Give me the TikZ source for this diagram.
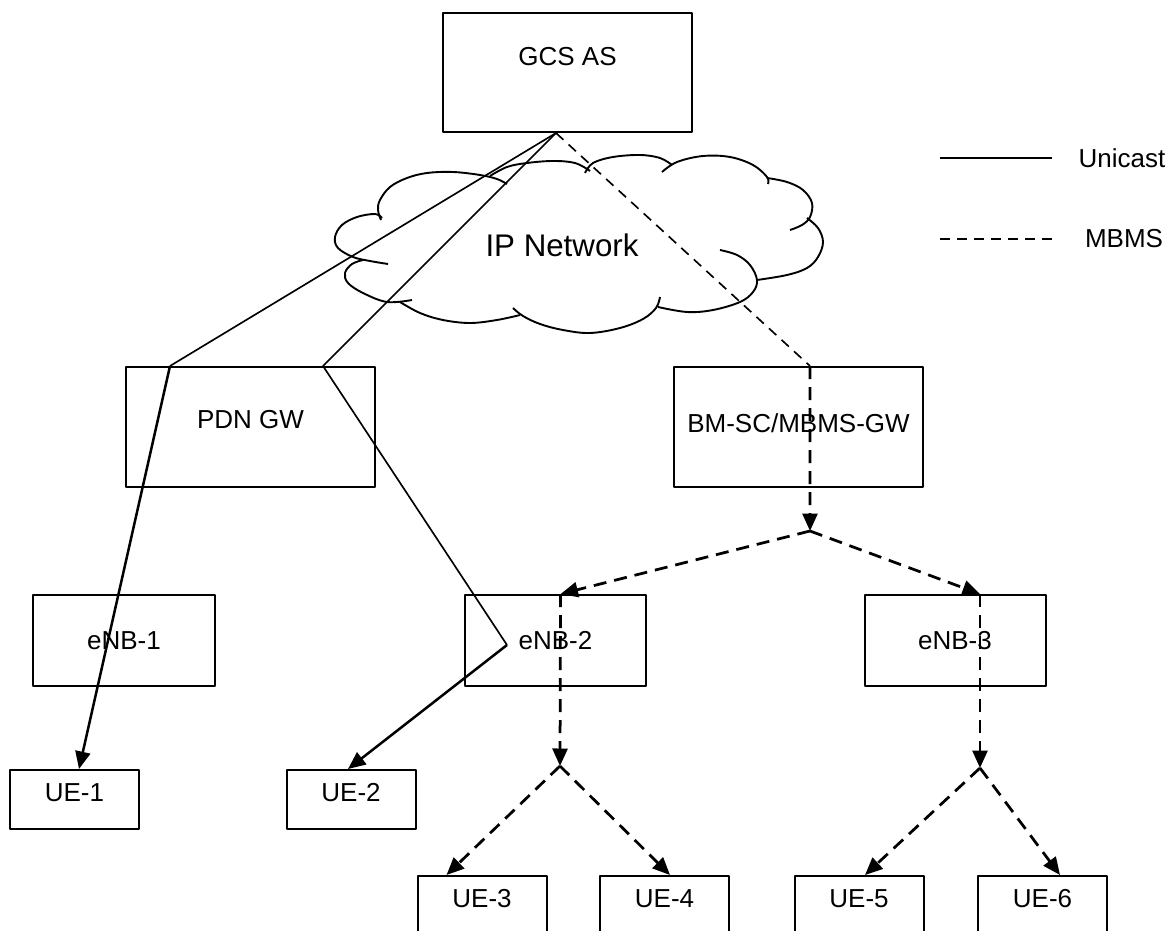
\documentclass[tikz,border=0pt]{standalone}
\usepackage{fontspec}
\setmainfont{Liberation Sans}
\usetikzlibrary{arrows.meta,calc}
\begin{document}
\begin{tikzpicture}[x=0.2mm,y=-0.2mm,>={Triangle[length=3.5mm,width=3mm]},line join=round,
		font=\fontsize{14.8}{18}\selectfont,
		unit/.style={draw,line width=0.4mm},
		core/.style={unit,minimum width=49.8mm,minimum height=24mm},
		enb/.style={unit,minimum width=36.2mm,minimum height=18.2mm,text depth=0pt},
		ue/.style={unit,minimum width=25.8mm,minimum height=11.8mm,text depth=2.7mm},
		uni/.style={line width=0.33mm},
		unia/.style={line width=0.5mm,->},
		mbms/.style={line width=0.33mm,dash pattern=on 2mm off 1.4mm},
		mbmsa/.style={line width=0.55mm,dash pattern=on 2.6mm off 1.6mm,->},
		puff/.style={line width=0.38mm,smooth,tension=0.6}]
	\useasboundingbox (0,0) rectangle (1168,931);
	\clip (0,0) rectangle (1168,931);
	% boxes
	\node[core,minimum height=23.8mm,text depth=6.3mm] (gcs) at (567.5,72.5) {GCS AS};
	\node[core,text depth=2.9mm] (pdn) at (250.5,427) {PDN GW};
	\node[core,text depth=1.5mm] (bmsc) at (798.5,427) {BM-SC/MBMS-GW};
	\node[enb] (enb1) at (124,640.5) {eNB-1};
	\node[enb] (enb2) at (555.5,640.5) {eNB-2};
	\node[enb] (enb3) at (955,640.5) {eNB-3};
	\foreach \n/\x/\y in {1/74.5/799.5,2/351/799.5,3/482/905.5,4/664.5/905.5,5/859/905.5,6/1042.5/905.5}
		\node[ue] (ue\n) at (\x,\y) {UE-\n};
	% cloud
	\draw[puff] plot coordinates {(381,220) (378,210) (380,200) (390,187) (407,178) (427,173) (453,172) (480,175) (497,179) (507,184)};
	\draw[puff] plot coordinates {(490,176) (507,167) (527,163) (553,161) (575,163) (590,171)};
	\draw[puff] plot coordinates {(585,173) (593,163) (613,157) (640,155) (660,158) (672,165)};
	\draw[puff] plot coordinates {(662,172) (677,162) (703,156) (730,157) (753,165) (767,177) (768,184)};
	\draw[puff] plot coordinates {(767,178) (787,182) (803,190) (812,203) (810,217) (802,225) (790,230)};
	\draw[puff] plot coordinates {(807,218) (818,228) (823,242) (818,257) (807,268) (787,275) (757,280)};
	\draw[puff] plot coordinates {(720,250) (737,255) (750,265) (757,280) (753,292) (740,302) (713,310) (687,312) (658,307)};
	\draw[puff] plot coordinates {(660,297) (656,308) (643,319) (620,328) (590,333) (563,330) (540,324) (523,316) (513,308)};
	\draw[puff] plot coordinates {(520,315) (497,320) (470,323) (443,320) (420,313) (400,302)};
	\draw[puff] plot coordinates {(363,260) (352,264) (345,273) (348,283) (363,293) (387,302) (412,300)};
	\draw[puff] plot coordinates {(382,218) (375,214) (357,217) (342,225) (335,237) (338,248) (353,257) (370,261) (388,264)};
	\node[font=\fontsize{17.8}{21}\selectfont] (ipnet) at (562,245) {IP Network};
	% legend
	\node (lunicast) at (1122,158) {Unicast};
	\node (lmbms) at (1124,239) {MBMS};
	\draw[unit] (940,158) -- (1052,158);
	\draw[line width=0.4mm,dash pattern=on 2mm off 1.4mm] (940,239) -- (1052,239);
	% bends and branch points
	\coordinate (gcsout) at ($(gcs.south)+(-11.5,0)$);
	\coordinate (pdnl) at ($(pdn.north west)+(45,0)$);
	\coordinate (pdnr) at ($(pdn.north east)+(-53,0)$);
	\coordinate (bend) at (507,645);
	\coordinate (bmin) at ($(bmsc.north)+(11.5,0)$);
	\coordinate (jb) at (810,531);
	\coordinate (e2in) at ($(enb2.north)+(5,0)$);
	\coordinate (e3in) at ($(enb3.north)+(25,0)$);
	\coordinate (j2) at (560,766);
	\coordinate (j3) at (980,768);
	% unicast
	\draw[uni] (gcsout) -- (pdnl);
	\draw[unia] (pdnl) -- ($(ue1.north)+(4.5,0)$);
	\draw[uni] (gcsout) -- (pdnr) -- (bend);
	\draw[unia] (bend) -- ($(ue2.north)+(-3,0)$);
	% mbms
	\draw[mbms] (gcsout) -- (bmin);
	\draw[mbmsa] (bmin) -- (jb);
	\draw[mbmsa] (jb) -- (e2in);
	\draw[mbmsa] (jb) -- (e3in);
	\draw[mbmsa] (e2in) -- (j2);
	\draw[mbmsa] (e3in) -- (j3);
	\draw[mbmsa] (j2) -- ($(ue3.north west)+(30,0)$);
	\draw[mbmsa] (j2) -- ($(ue4.north)+(5.5,0)$);
	\draw[mbmsa] (j3) -- ($(ue5.north)+(6,0)$);
	\draw[mbmsa] (j3) -- ($(ue6.north)+(17.5,0)$);
\end{tikzpicture}
\end{document}
